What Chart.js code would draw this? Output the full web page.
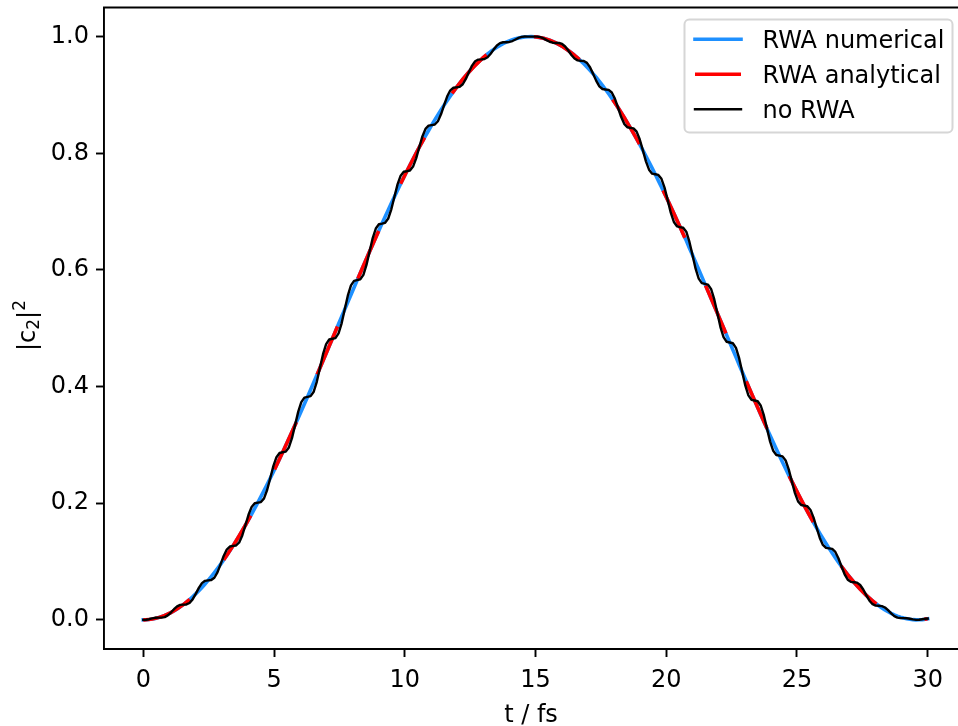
<!DOCTYPE html>
<html><head><meta charset="utf-8">
<script src="https://cdn.jsdelivr.net/npm/chart.js@4.4.1/dist/chart.umd.min.js"></script>
<style>html,body{margin:0;padding:0;overflow:hidden;background:#fff}canvas{display:block}</style>
</head><body>
<canvas id="c" width="958" height="726" style="width:958px;height:726px"></canvas>
<script>
// time grid (fs) shared by the RWA numerical and no-RWA curves
const tFine = [0,
0.105,0.224,0.343,0.461,0.58,0.699,0.818,0.936,
1.055,1.174,1.293,1.411,1.53,1.649,1.768,1.886,
2.005,2.124,2.243,2.361,2.48,2.599,2.718,2.836,
2.955,3.074,3.193,3.311,3.43,3.549,3.668,3.786,
3.905,4.024,4.143,4.261,4.38,4.499,4.618,4.736,
4.855,4.974,5.093,5.211,5.33,5.449,5.568,5.686,
5.805,5.924,6.043,6.161,6.28,6.399,6.518,6.636,
6.755,6.874,6.993,7.111,7.23,7.349,7.468,7.586,
7.705,7.824,7.943,8.061,8.18,8.299,8.418,8.536,
8.655,8.774,8.893,9.011,9.13,9.249,9.368,9.486,
9.605,9.724,9.843,9.961,10.08,10.199,10.318,10.436,
10.555,10.674,10.793,10.911,11.03,11.149,11.268,11.386,
11.505,11.624,11.743,11.861,11.98,12.099,12.218,12.336,
12.455,12.574,12.693,12.811,12.93,13.049,13.168,13.286,
13.405,13.524,13.643,13.761,13.88,13.999,14.118,14.236,
14.355,14.474,14.593,14.711,14.83,14.949,15.068,15.186,
15.305,15.424,15.543,15.661,15.78,15.899,16.018,16.136,
16.255,16.374,16.493,16.611,16.73,16.849,16.968,17.086,
17.205,17.324,17.443,17.561,17.68,17.799,17.918,18.036,
18.155,18.274,18.393,18.511,18.63,18.749,18.868,18.986,
19.105,19.224,19.343,19.461,19.58,19.699,19.818,19.936,
20.055,20.174,20.293,20.411,20.53,20.649,20.768,20.886,
21.005,21.124,21.243,21.361,21.48,21.599,21.718,21.836,
21.955,22.074,22.193,22.311,22.43,22.549,22.668,22.786,
22.905,23.024,23.143,23.261,23.38,23.499,23.618,23.736,
23.855,23.974,24.093,24.211,24.33,24.449,24.568,24.686,
24.805,24.924,25.043,25.161,25.28,25.399,25.518,25.636,
25.755,25.874,25.993,26.111,26.23,26.349,26.468,26.586,
26.705,26.824,26.943,27.061,27.18,27.299,27.418,27.536,
27.655,27.774,27.893,28.011,28.13,28.249,28.368,28.486,
28.605,28.724,28.843,28.961,29.08,29.199,29.318,29.436,
29.555,29.674,29.793,29.911,
30];

const rwaNumerical = [0,
.0001,.0006,.0013,.0024,.0038,.0055,.0075,.0098,
.0125,.0154,.0187,.0223,.0261,.0303,.0348,.0395,
.0446,.0499,.0556,.0615,.0677,.0742,.0809,.0879,
.0952,.1027,.1105,.1185,.1268,.1353,.1440,.1530,
.1622,.1716,.1812,.1910,.2010,.2112,.2216,.2321,
.2428,.2537,.2648,.2760,.2873,.2988,.3104,.3221,
.3339,.3459,.3579,.3700,.3822,.3945,.4069,.4193,
.4318,.4443,.4568,.4694,.4820,.4946,.5072,.5198,
.5324,.5449,.5575,.5700,.5824,.5948,.6072,.6194,
.6316,.6437,.6558,.6677,.6795,.6912,.7028,.7143,
.7256,.7368,.7478,.7586,.7693,.7799,.7902,.8004,
.8104,.8202,.8297,.8391,.8483,.8572,.8659,.8744,
.8826,.8906,.8983,.9058,.9131,.9200,.9267,.9332,
.9393,.9452,.9508,.9561,.9611,.9658,.9703,.9744,
.9782,.9818,.9850,.9879,.9905,.9928,.9948,.9964,
.9978,.9988,.9995,.9999,1.0000,.9998,.9992,.9983,
.9971,.9956,.9938,.9917,.9892,.9865,.9834,.9800,
.9763,.9724,.9681,.9635,.9586,.9535,.9480,.9423,
.9362,.9300,.9234,.9165,.9094,.9021,.8945,.8866,
.8785,.8701,.8615,.8527,.8437,.8344,.8249,.8152,
.8054,.7953,.7850,.7746,.7640,.7532,.7422,.7311,
.7199,.7085,.6970,.6853,.6735,.6617,.6503,.6376,
.6255,.6132,.6009,.5885,.5761,.5636,.5511,.5386,
.5260,.5134,.5008,.4882,.4756,.4630,.4505,.4379,
.4254,.4130,.4006,.3883,.3761,.3639,.3518,.3398,
.3279,.3162,.3045,.2930,.2816,.2703,.2592,.2482,
.2374,.2267,.2163,.2060,.1959,.1860,.1763,.1668,
.1575,.1484,.1396,.1310,.1226,.1144,.1065,.0989,
.0915,.0843,.0775,.0709,.0645,.0585,.0527,.0472,
.0420,.0371,.0325,.0282,.0241,.0204,.0170,.0139,
.0111,.0086,.0064,.0046,.0030,.0018,.0009,.0003,
.0000,.0001,.0004,.0011,
.0018];

const noRwa = [0,
.0001,.0011,.0025,.0035,.0038,.0038,.0047,.0076,
.0125,.0182,.0230,.0256,.0261,.0264,.0289,.0351,
.0446,.0549,.0629,.0669,.0677,.0682,.0722,.0815,
.0952,.1096,.1205,.1258,.1268,.1275,.1328,.1448,
.1622,.1801,.1935,.1999,.2010,.2019,.2083,.2226,
.2428,.2636,.2789,.2861,.2873,.2884,.2956,.3115,
.3339,.3566,.3733,.3810,.3822,.3835,.3912,.4081,
.4318,.4555,.4727,.4807,.4820,.4832,.4912,.5085,
.5324,.5562,.5734,.5812,.5824,.5837,.5915,.6085,
.6316,.6546,.6710,.6784,.6795,.6808,.6882,.7040,
.7256,.7467,.7617,.7683,.7693,.7705,.7772,.7914,
.8104,.8289,.8418,.8474,.8483,.8493,.8550,.8669,
.8826,.8977,.9080,.9124,.9131,.9139,.9184,.9275,
.9393,.9504,.9577,.9607,.9611,.9617,.9648,.9708,
.9782,.9848,.9889,.9904,.9905,.9909,.9925,.9951,
.9978,.9996,1.0002,1.0001,1.0000,1.0001,1.0001,.9992,
.9971,.9941,.9913,.9896,.9892,.9891,.9875,.9832,
.9763,.9686,.9625,.9593,.9586,.9582,.9551,.9475,
.9362,.9242,.9149,.9103,.9094,.9088,.9043,.8938,
.8785,.8625,.8505,.8447,.8437,.8428,.8371,.8240,
.8054,.7862,.7719,.7651,.7640,.7629,.7562,.7412,
.7199,.6982,.6823,.6748,.6735,.6724,.6656,.6485,
.6255,.6022,.5852,.5774,.5761,.5749,.5670,.5498,
.5260,.5021,.4848,.4769,.4756,.4743,.4664,.4492,
.4254,.4019,.3849,.3773,.3761,.3748,.3671,.3505,
.3279,.3056,.2898,.2827,.2816,.2803,.2732,.2580,
.2374,.2173,.2031,.1969,.1959,.1948,.1885,.1752,
.1575,.1404,.1285,.1233,.1226,.1216,.1164,.1056,
.0915,.0781,.0689,.0651,.0645,.0638,.0598,.0520,
.0420,.0328,.0268,.0244,.0241,.0236,.0212,.0166,
.0111,.0065,.0039,.0031,.0030,.0028,.0019,.0007,
.0000,.0002,.0011,.0018,
.0021];

// coarser time grid for the analytical RWA curve
const tCoarse = [0,0.105,0.58,1.055,1.53,2.005,2.48,2.955,3.43,3.905,4.38,4.855,5.33,5.805,6.28,6.755,7.23,
7.705,8.18,8.655,9.13,9.605,10.08,10.555,11.03,11.505,11.98,12.455,12.93,13.405,13.88,14.355,14.83,
15.305,15.78,16.255,16.73,17.205,17.68,18.155,18.63,19.105,19.58,20.055,20.53,21.005,21.48,21.955,22.43,
22.905,23.38,23.855,24.33,24.805,25.28,25.755,26.23,26.705,27.18,27.655,28.13,28.605,29.08,29.555,30];

const rwaAnalytical = [0,.0001,.0038,.0125,.0261,.0446,.0677,.0952,.1268,.1622,.2010,.2428,.2873,.3339,.3822,.4318,.4820,
.5324,.5824,.6316,.6795,.7256,.7693,.8104,.8483,.8826,.9131,.9393,.9611,.9782,.9905,.9978,1.0000,
.9971,.9892,.9763,.9586,.9362,.9094,.8785,.8437,.8054,.7640,.7199,.6735,.6255,.5761,.5260,.4756,
.4254,.3761,.3279,.2816,.2374,.1959,.1575,.1226,.0915,.0645,.0420,.0241,.0111,.0030,.0000,.0018];

const xTicks = [0,5,10,15,20,25,30];
const yTicks = [0,0.2,0.4,0.6,0.8,1.0];
const seriesLabels = ['RWA numerical','RWA analytical','no RWA'];
const xTitle = 't / fs';
const yTitleParts = ['|c','2','|','2'];

const FONT = 'DejaVu Sans';
const FS = 24;
function pts(ts, ys){ return ts.map((t,i)=>({x:t, y:ys[i]})); }

const datasets = [
  {label: seriesLabels[0], data: pts(tFine, rwaNumerical), borderColor:'#1e90ff', borderWidth:3.6,
   borderCapStyle:'square', borderJoinStyle:'round', pointRadius:0, order:3, tension:0},
  {label: seriesLabels[1], data: pts(tCoarse, rwaAnalytical), borderColor:'#ff0000', borderWidth:3.6,
   borderDash:[52,52], borderCapStyle:'butt', borderJoinStyle:'round', pointRadius:0, order:2,
   cubicInterpolationMode:'monotone'},
  {label: seriesLabels[2], data: pts(tFine, noRwa), borderColor:'#000000', borderWidth:2.4,
   borderCapStyle:'square', borderJoinStyle:'round', pointRadius:0, order:1, tension:0}
];

const overlay = {
  id: 'overlay',
  afterDraw(chart){
    const ctx = chart.ctx, a = chart.chartArea;
    ctx.save();
    // top spine (the right spine lies just beyond the visible window)
    ctx.strokeStyle = '#000'; ctx.lineWidth = 1.92; ctx.lineCap='butt';
    ctx.beginPath(); ctx.moveTo(a.left - 0.96, a.top); ctx.lineTo(a.right, a.top); ctx.stroke();
    // legend
    const lx = 684.5, ly = 19.5, lw = 268, lh = 113;
    ctx.beginPath(); ctx.roundRect(lx, ly, lw, lh, 4.8);
    ctx.fillStyle = 'rgba(255,255,255,0.8)'; ctx.fill();
    ctx.strokeStyle = '#d6d6d6'; ctx.lineWidth = 2.0; ctx.stroke();
    [0,1,2].forEach((di, i) => {
      const ds = chart.data.datasets[di];
      const y = 39.3 + 35 * i;
      ctx.beginPath();
      ctx.setLineDash(ds.borderDash || []);
      ctx.lineCap = ds.borderCapStyle;
      ctx.strokeStyle = ds.borderColor; ctx.lineWidth = ds.borderWidth;
      ctx.moveTo(695, y); ctx.lineTo(741, y); ctx.stroke();
      ctx.setLineDash([]);
      ctx.fillStyle = '#000'; ctx.font = FS + 'px "' + FONT + '"';
      ctx.textAlign = 'left'; ctx.textBaseline = 'alphabetic';
      ctx.fillText(ds.label, 762.5, y + 8.7);
    });
    // y axis title |c_2|^2
    ctx.translate(35, 351); ctx.rotate(-Math.PI/2);
    ctx.fillStyle = '#000'; ctx.textAlign = 'left'; ctx.textBaseline = 'alphabetic';
    let x = 0;
    ctx.font = FS + 'px "' + FONT + '"'; ctx.fillText(yTitleParts[0], x, 0); x += ctx.measureText(yTitleParts[0]).width;
    ctx.font = '17px "' + FONT + '"'; ctx.fillText(yTitleParts[1], x, 4); x += ctx.measureText(yTitleParts[1]).width;
    ctx.font = FS + 'px "' + FONT + '"'; ctx.fillText(yTitleParts[2], x, 0); x += ctx.measureText(yTitleParts[2]).width;
    ctx.font = '17px "' + FONT + '"'; ctx.fillText(yTitleParts[3], x, -10);
    ctx.restore();
  }
};

new Chart(document.getElementById('c'), {
  type: 'line',
  data: { datasets },
  options: {
    responsive: false, animation: false, devicePixelRatio: 1,
    layout: { padding: { left: 0, top: 7.5, right: 0, bottom: 0 } },
    plugins: { legend: { display: false }, tooltip: { enabled: false } },
    scales: {
      x: {
        type: 'linear', min: -1.503, max: 31.16,
        afterFit(s){ s.height = 77; s.paddingLeft = 0; s.paddingRight = 0; },
        afterBuildTicks(s){ s.ticks = xTicks.map(v => ({value: v})); },
        ticks: { color:'#000', font:{family:FONT, size:FS}, padding:9, maxRotation:0, autoSkip:false,
                 callback: v => String(v) },
        grid: { drawOnChartArea:false, drawTicks:true, tickLength:8, tickWidth:1.92, tickColor:'#000' },
        border: { display:true, color:'#000', width:1.92 },
        title: { display:true, text:xTitle, color:'#000', font:{family:FONT, size:FS, lineHeight:0.88}, padding:0 }
      },
      y: {
        type: 'linear', min: -0.05, max: 1.05,
        afterFit(s){ s.width = 104; s.paddingTop = 0; s.paddingBottom = 0; },
        afterBuildTicks(s){ s.ticks = yTicks.map(v => ({value: v})); },
        ticks: { color:'#000', font:{family:FONT, size:FS}, padding:7, autoSkip:false,
                 callback: v => Number(v).toFixed(1) },
        grid: { drawOnChartArea:false, drawTicks:true, tickLength:8, tickWidth:1.92, tickColor:'#000' },
        border: { display:true, color:'#000', width:1.92 },
        title: { display:false }
      }
    }
  },
  plugins: [overlay]
});
</script>
</body></html>
